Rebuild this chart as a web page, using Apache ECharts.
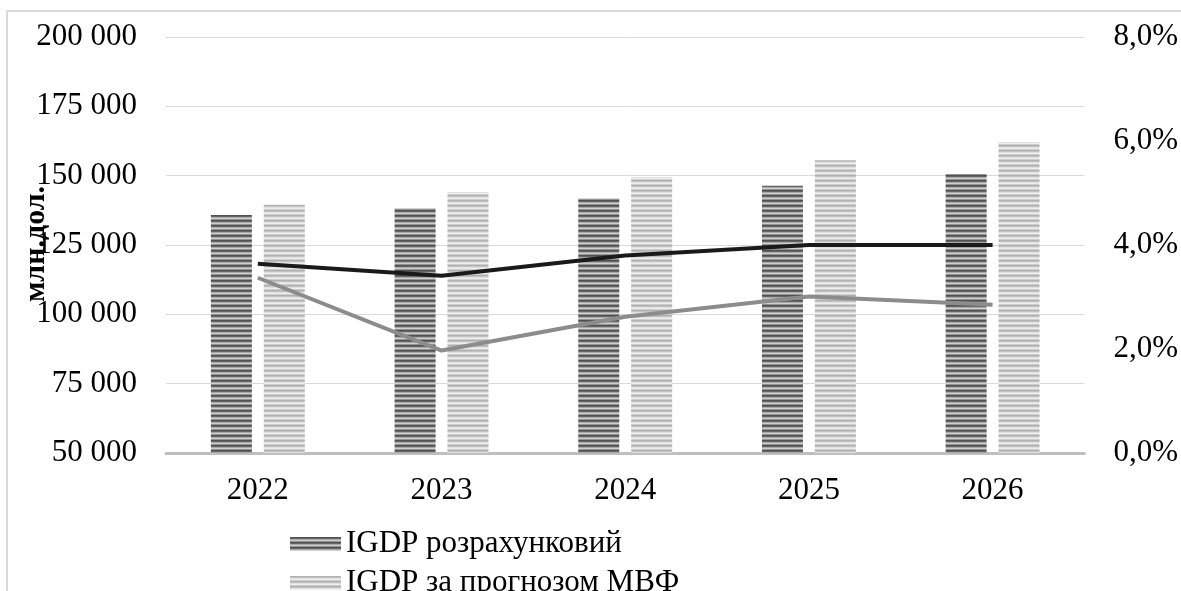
<!DOCTYPE html>
<html>
<head>
<meta charset="utf-8">
<script src="https://cdn.jsdelivr.net/npm/echarts@6/dist/echarts.min.js"></script>
<style>
  html, body { margin: 0; padding: 0; background: #fff; }
  #chart { width: 1181px; height: 591px; }
</style>
</head>
<body>
<div id="chart"></div>
<script>
// Years on the category axis
const years = ['2022', '2023', '2024', '2025', '2026'];
// IGDP, million USD (left axis)
const igdpCalc = [135800, 138300, 141900, 146400, 150600];
const igdpImf = [139500, 144100, 149500, 155600, 162100];
// Growth rates, share (right axis)
const growthCalc = [0.0364, 0.0341, 0.0380, 0.0400, 0.0400];
const growthImf = [0.0337, 0.0197, 0.0262, 0.0301, 0.0285];
// Axis ranges and ticks
const leftTicks = { min: 50000, max: 200000, interval: 25000 };
const rightTicks = { min: 0, max: 0.08, interval: 0.02 };

const FONT = "'Liberation Serif', 'Times New Roman', serif";

// Horizontal-stripe fill for the bars
function stripes(rows) {
  const c = document.createElement('canvas');
  c.width = 4;
  c.height = rows.length;
  const ctx = c.getContext('2d');
  rows.forEach((col, i) => {
    ctx.fillStyle = col;
    ctx.fillRect(0, i, 4, 1);
  });
  return { image: c, repeat: 'repeat' };
}
const darkFill = stripes(['#505050', '#666666', '#a8a8a8', '#cfcfcf', '#939393']);
const lightFill = stripes(['#b0b0b0', '#c2c2c2', '#e0e0e0', '#eeeeee', '#cecece']);

const fmtThousands = v => String(v).replace(/\B(?=(\d{3})+(?!\d))/g, ' ');
const fmtPct = v => (v * 100).toFixed(1).replace('.', ',') + '%';

const chart = echarts.init(document.getElementById('chart'), null, { renderer: 'canvas' });
chart.setOption({
  animation: false,
  backgroundColor: '#ffffff',
  textStyle: { fontFamily: FONT, color: '#000' },
  grid: { left: 166, right: 96, top: 37, bottom: 138, containLabel: false },
  graphic: [
    {
      type: 'rect',
      shape: { x: 7, y: 11, width: 1250, height: 700 },
      style: { fill: 'none', stroke: '#d9d9d9', lineWidth: 2 },
      z: 0, silent: true
    },
    {
      type: 'text',
      x: 36, y: 244,
      rotation: Math.PI / 2,
      style: {
        text: 'млн.дол.',
        font: 'bold 30px ' + FONT,
        fill: '#000',
        align: 'center',
        verticalAlign: 'middle'
      },
      z: 10
    }
  ],
  legend: {
    data: ['IGDP розрахунковий', 'IGDP за прогнозом МВФ'],
    orient: 'vertical',
    left: 290,
    top: 528,
    height: 200,
    padding: 0,
    itemWidth: 51,
    itemHeight: 14,
    itemGap: 7,
    icon: 'rect',
    textStyle: { fontFamily: 'Liberation Serif', fontSize: 31, lineHeight: 32, color: '#000' }
  },
  xAxis: {
    type: 'category',
    data: years,
    axisTick: { show: false },
    axisLine: { lineStyle: { color: '#bfbfbf', width: 3 } },
    axisLabel: { fontFamily: FONT, fontSize: 31, color: '#000', margin: 22 },
    splitLine: { show: false }
  },
  yAxis: [
    {
      type: 'value',
      min: leftTicks.min, max: leftTicks.max, interval: leftTicks.interval,
      axisLine: { show: false },
      axisTick: { show: false },
      axisLabel: { fontFamily: FONT, fontSize: 31, color: '#000', margin: 29, formatter: fmtThousands },
      splitLine: { lineStyle: { color: '#d9d9d9', width: 1 } }
    },
    {
      type: 'value',
      min: rightTicks.min, max: rightTicks.max, interval: rightTicks.interval,
      position: 'right',
      axisLine: { show: false },
      axisTick: { show: false },
      axisLabel: { fontFamily: FONT, fontSize: 31, color: '#000', margin: 29, formatter: fmtPct },
      splitLine: { show: false }
    }
  ],
  series: [
    {
      name: 'IGDP розрахунковий',
      type: 'bar',
      data: igdpCalc,
      barWidth: 41,
      barGap: '29%',
      itemStyle: { color: darkFill },
      z: 2
    },
    {
      name: 'IGDP за прогнозом МВФ',
      type: 'bar',
      data: igdpImf,
      barWidth: 41,
      itemStyle: { color: lightFill },
      z: 2
    },
    {
      name: 'Темп зростання IGDP розрахунковий',
      type: 'line',
      yAxisIndex: 1,
      data: growthCalc,
      symbol: 'none',
      lineStyle: { color: '#1a1a1a', width: 4 },
      z: 5
    },
    {
      name: 'Темп зростання IGDP за прогнозом МВФ',
      type: 'line',
      yAxisIndex: 1,
      data: growthImf,
      symbol: 'none',
      lineStyle: { color: '#8c8c8c', width: 4 },
      z: 4
    }
  ]
});
</script>
</body>
</html>
